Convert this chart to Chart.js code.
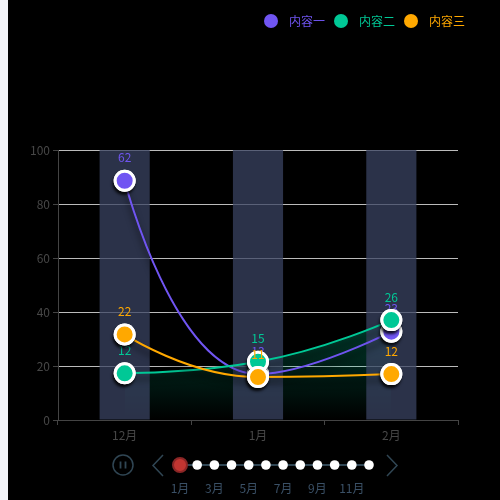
<!DOCTYPE html>
<html>
<head>
<meta charset="utf-8">
<script src="https://cdn.jsdelivr.net/npm/chart.js@4.4.0/dist/chart.umd.min.js"></script>
<style>
html,body{margin:0;padding:0;width:500px;height:500px;overflow:hidden;background:#f3f4f8;font-family:"Noto Sans CJK SC","Noto Sans",sans-serif;}
#wrap{position:absolute;left:8px;top:0;width:492px;height:500px;background:#000;}
#chartBox{position:absolute;left:0;top:0;width:492px;height:500px;}
#legend{position:absolute;top:13px;right:35px;display:flex;gap:9px;height:16px;}
.lg{position:relative;height:16px;line-height:16px;font-size:12px;white-space:nowrap;padding-left:25px;}
.lg i{position:absolute;left:0;top:1px;width:14px;height:14px;border-radius:50%;}
#timeline{position:absolute;left:0;top:440px;width:492px;height:60px;}
#timeline svg{position:absolute;left:0;top:0;}
.tl{position:absolute;top:40px;font-size:12px;line-height:16px;color:#3a5066;transform:translateX(-50%);white-space:nowrap;}
</style>
</head>
<body>
<div id="wrap">
  <div id="chartBox"><canvas id="c"></canvas></div>
  <div id="legend"></div>
  <div id="timeline"></div>
</div>
<script>
// ---- data ----
const categories = ['12月', '1月', '2月'];
const seriesNames = ['内容一', '内容二', '内容三'];
const seriesColors = ['#7055F2', '#00C896', '#FFA800'];
const series1 = [88.6, 17.0, 32.7];
const series2 = [17.3, 21.6, 37.0];
const series3 = [31.7, 15.9, 17.0];
const labels1 = [62, 13, 23];
const labels2 = [12, 15, 26];
const labels3 = [22, 11, 12];
const barValues = [100, 100, 100];
const yMin = 0, yMax = 100, yStep = 20;
const timelineMonths = ['1月','2月','3月','4月','5月','6月','7月','8月','9月','10月','11月','12月'];
const timelineCurrent = 0;

// ---- legend (HTML) ----
const legendEl = document.getElementById('legend');
seriesNames.forEach((n, i) => {
  const d = document.createElement('div');
  d.className = 'lg';
  d.style.color = seriesColors[i];
  d.innerHTML = '<i style="background:' + seriesColors[i] + '"></i>' + n;
  legendEl.appendChild(d);
});

// ---- timeline (HTML/SVG) ----
(function () {
  const tl = document.getElementById('timeline');
  const x0 = 172, x1 = 361, cy = 25, col = '#304654';
  const step = (x1 - x0) / (timelineMonths.length - 1);
  let svg = '<svg width="492" height="60" xmlns="http://www.w3.org/2000/svg">';
  svg += '<circle cx="115" cy="' + cy + '" r="10" fill="none" stroke="' + col + '" stroke-width="1.5"/>';
  svg += '<line x1="112.5" y1="21.5" x2="112.5" y2="28.5" stroke="' + col + '" stroke-width="1.8"/>';
  svg += '<line x1="117.5" y1="21.5" x2="117.5" y2="28.5" stroke="' + col + '" stroke-width="1.8"/>';
  svg += '<polyline points="155,15 145,25.5 155,36" fill="none" stroke="' + col + '" stroke-width="1.5"/>';
  svg += '<polyline points="379,15 389,25.5 379,36" fill="none" stroke="' + col + '" stroke-width="1.5"/>';
  svg += '<line x1="' + x0 + '" y1="' + cy + '" x2="' + x1 + '" y2="' + cy + '" stroke="' + col + '" stroke-width="2"/>';
  timelineMonths.forEach((m, i) => {
    const x = x0 + i * step;
    if (i === timelineCurrent) {
      svg += '<circle cx="' + x + '" cy="' + cy + '" r="7" fill="#c23531" stroke="#8a2626" stroke-width="2"/>';
    } else {
      svg += '<circle cx="' + x + '" cy="' + cy + '" r="4.8" fill="#ffffff"/>';
    }
  });
  svg += '</svg>';
  tl.innerHTML = svg;
  timelineMonths.forEach((m, i) => {
    if (i % 2 !== 0) return;
    const s = document.createElement('div');
    s.className = 'tl';
    s.style.left = (x0 + i * step) + 'px';
    s.textContent = m;
    tl.appendChild(s);
  });
})();

// ---- plugins ----
const PointProto = Chart.elements.PointElement.prototype;
function pointDrawNoInnerShadow(ctx, area) {
  const r = this.options.radius + this.options.borderWidth / 2;
  ctx.save();
  ctx.shadowColor = 'rgba(0,0,0,0.85)';
  ctx.shadowBlur = 3;
  ctx.shadowOffsetX = -1;
  ctx.shadowOffsetY = 3;
  ctx.fillStyle = '#ffffff';
  ctx.beginPath();
  ctx.arc(this.x, this.y, r, 0, Math.PI * 2);
  ctx.fill();
  ctx.restore();
  ctx.save();
  ctx.shadowColor = 'rgba(0,0,0,0)';
  ctx.shadowBlur = 0; ctx.shadowOffsetX = 0; ctx.shadowOffsetY = 0;
  PointProto.draw.call(this, ctx, area);
  ctx.restore();
}

const echartsSmooth = {
  id: 'echartsSmooth',
  afterDatasetsUpdate(chart) {
    const s = 0.5;
    chart.data.datasets.forEach((ds, i) => {
      if (ds.type !== 'line') return;
      const meta = chart.getDatasetMeta(i);
      const pts = meta.data, n = pts.length;
      for (let k = 0; k < n; k++) {
        const p = pts[k];
        p.draw = pointDrawNoInnerShadow;
        if (k === 0 || k === n - 1) { p.cp1x = p.x; p.cp1y = p.y; p.cp2x = p.x; p.cp2y = p.y; continue; }
        const pr = pts[k - 1], nx = pts[k + 1];
        let vx = nx.x - pr.x, vy = nx.y - pr.y;
        const lp = Math.hypot(p.x - pr.x, p.y - pr.y);
        const ln = Math.hypot(nx.x - p.x, nx.y - p.y);
        const r = ln / (ln + lp);
        let ncx = p.x + vx * s * r, ncy = p.y + vy * s * r;
        ncx = Math.max(Math.min(ncx, Math.max(nx.x, p.x)), Math.min(nx.x, p.x));
        ncy = Math.max(Math.min(ncy, Math.max(nx.y, p.y)), Math.min(nx.y, p.y));
        vx = ncx - p.x; vy = ncy - p.y;
        let c1x = p.x - vx * lp / ln, c1y = p.y - vy * lp / ln;
        c1x = Math.max(Math.min(c1x, Math.max(pr.x, p.x)), Math.min(pr.x, p.x));
        c1y = Math.max(Math.min(c1y, Math.max(pr.y, p.y)), Math.min(pr.y, p.y));
        vx = p.x - c1x; vy = p.y - c1y;
        ncx = p.x + vx * ln / lp; ncy = p.y + vy * ln / lp;
        p.cp1x = c1x; p.cp1y = c1y; p.cp2x = ncx; p.cp2y = ncy;
      }
      meta.dataset._pointsUpdated = true;
    });
  }
};

const shadowAndLabels = {
  id: 'shadowAndLabels',
  beforeDatasetDraw(chart, args) {
    const ds = chart.data.datasets[args.index];
    if (ds.type !== 'line') return;
    const ctx = chart.ctx;
    ctx.save();
    ctx.shadowColor = 'rgba(0,0,0,0.65)';
    ctx.shadowBlur = 6;
    ctx.shadowOffsetX = 0;
    ctx.shadowOffsetY = 6;
  },
  afterDatasetDraw(chart, args) {
    const ds = chart.data.datasets[args.index];
    if (ds.type !== 'line') return;
    const ctx = chart.ctx;
    ctx.restore();
    const meta = chart.getDatasetMeta(args.index);
    ctx.save();
    ctx.font = '12px "Noto Sans CJK SC", "Noto Sans", sans-serif';
    ctx.fillStyle = ds.borderColor;
    ctx.textAlign = 'center';
    ctx.textBaseline = 'middle';
    meta.data.forEach((p, j) => ctx.fillText(String(ds.valueLabels[j]), p.x, p.y - 23));
    ctx.restore();
  }
};

function lineDs(name, data, color, lbls, order) {
  return {
    type: 'line', label: name, data: data, valueLabels: lbls, order: order,
    borderColor: color, borderWidth: 2, tension: 0.5, fill: false,
    pointRadius: 9.5, pointHoverRadius: 9.5, pointBorderWidth: 3,
    pointBorderColor: '#ffffff', pointBackgroundColor: color
  };
}

const ds2 = lineDs(seriesNames[1], series2, seriesColors[1], labels2, 2);
ds2.fill = 'origin';
ds2.backgroundColor = (c) => {
  const ch = c.chart, a = ch.chartArea;
  if (!a) return 'rgba(0,0,0,0)';
  const top = ch.scales.y.getPixelForValue(37);
  const g = ch.ctx.createLinearGradient(0, top, 0, a.bottom);
  g.addColorStop(0, 'rgba(0,200,150,0.32)');
  g.addColorStop(1, 'rgba(0,200,150,0.0)');
  return g;
};

new Chart(document.getElementById('c'), {
  data: {
    labels: categories,
    datasets: [
      lineDs(seriesNames[0], series1, seriesColors[0], labels1, 3),
      ds2,
      lineDs(seriesNames[2], series3, seriesColors[2], labels3, 1),
      { type: 'bar', label: 'bg', data: barValues, order: 10,
        backgroundColor: 'rgba(57,67,97,0.75)', borderWidth: 0,
        barPercentage: 0.376, categoryPercentage: 1 }
    ]
  },
  options: {
    responsive: true, maintainAspectRatio: false, animation: false,
    layout: { padding: { top: 150, right: 42, bottom: 50, left: 0 } },
    plugins: {
      legend: { display: false },
      tooltip: { enabled: false },
      filler: { drawTime: 'beforeDatasetsDraw' }
    },
    scales: {
      x: {
        offset: true,
        grid: { offset: true, drawOnChartArea: false, color: '#444', tickLength: 5 },
        border: { color: '#444' },
        ticks: { color: '#474747', font: { size: 12, family: '"Noto Sans CJK SC", "Noto Sans", sans-serif' }, padding: 3 },
        afterFit: (s) => { s.height = 30; }
      },
      y: {
        min: yMin, max: yMax,
        ticks: { stepSize: yStep, color: '#474747', font: { size: 12, family: '"Noto Sans CJK SC", "Noto Sans", sans-serif' }, padding: 3 },
        grid: { color: (c) => (c.tick && c.tick.value === 0) ? '#444' : '#bbbbbb', tickColor: '#444', tickLength: 5 },
        border: { color: '#444' },
        afterFit: (s) => { s.width = 50; }
      }
    }
  },
  plugins: [echartsSmooth, shadowAndLabels]
});
</script>
</body>
</html>
